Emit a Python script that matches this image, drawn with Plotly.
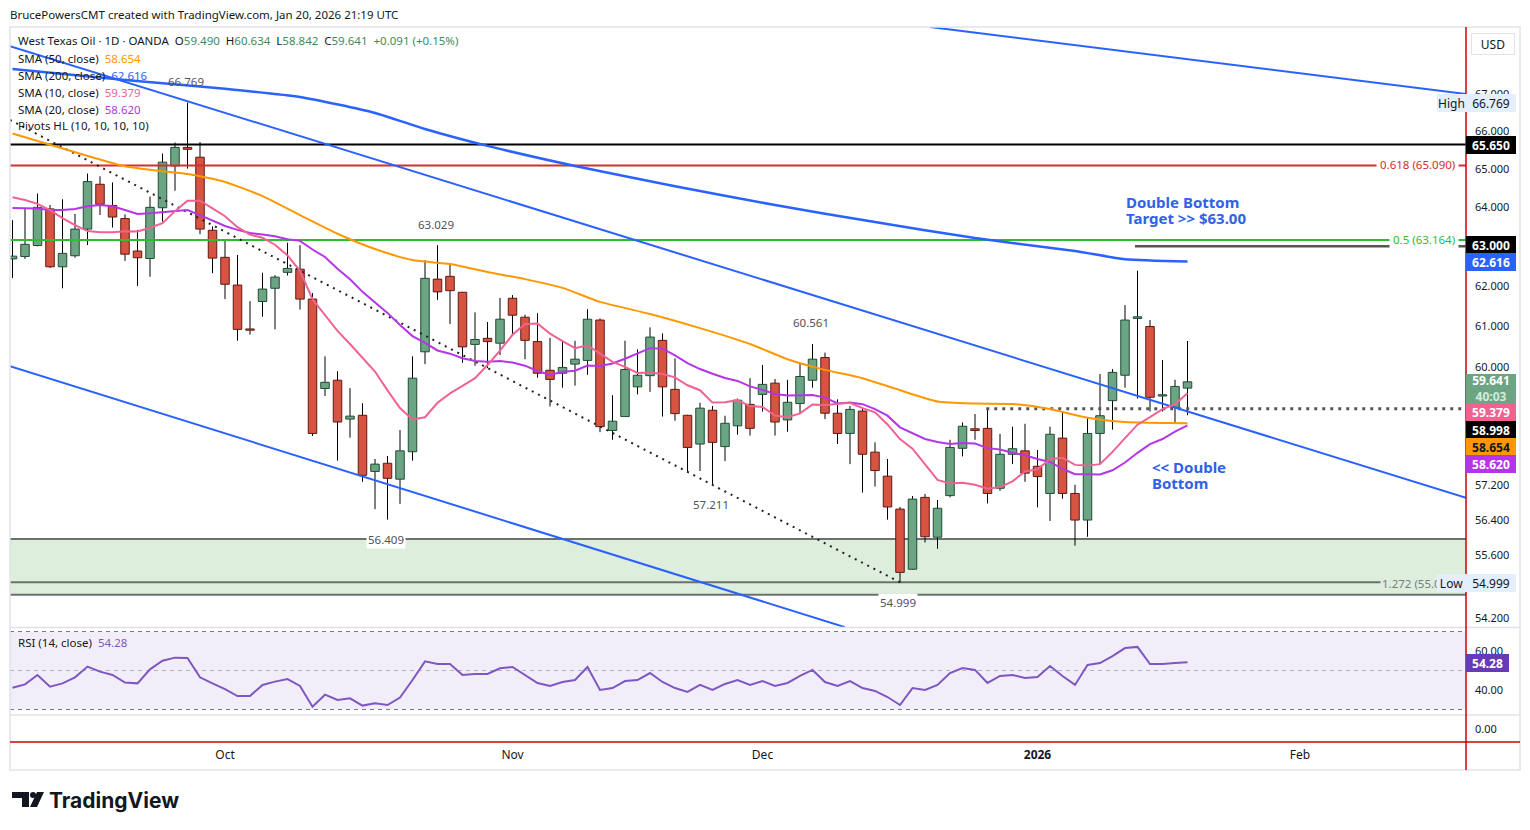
import math
import pandas as pd
import plotly.graph_objects as go

# ---------------- data ----------------
HOLIDAYS = ["2025-12-25", "2026-01-01"]
dates = [d for d in pd.bdate_range("2025-09-08", "2026-01-20") if d.strftime("%Y-%m-%d") not in HOLIDAYS]

opens = [62.68, 62.74, 63.02, 63.96, 62.48, 62.76, 63.44, 64.60, 64.05, 63.71,
         62.88, 62.69, 63.99, 65.08, 65.57, 65.31, 63.41, 62.72, 62.02, 60.93,
         61.61, 61.94, 62.34, 62.42, 61.67, 59.48, 59.68, 58.75, 58.84, 57.52,
         57.71, 57.34, 57.98, 60.37, 62.17, 62.24, 61.84, 60.55, 60.70, 60.58,
         61.69, 61.22, 60.62, 59.92, 59.85, 60.07, 60.16, 61.15, 58.48, 58.81,
         59.52, 59.79, 60.65, 59.46, 58.84, 58.16, 58.96, 58.10, 58.59, 59.10,
         59.34, 59.61, 58.73, 59.12, 59.68, 60.23, 58.89, 58.41, 58.94, 57.97,
         57.41, 56.65, 55.29, 56.92, 56.01, 56.96, 58.06, 58.52, 58.53, 57.13,
         57.92, 58.00, 57.64, 57.01, 58.30, 57.01, 56.40, 58.41, 59.19, 59.80,
         61.19, 60.99, 59.30, 59.03, 59.490]
highs = [63.67, 63.98, 64.36, 64.06, 64.21, 63.83, 64.88, 64.81, 64.65, 63.82,
         63.42, 64.28, 65.41, 65.70, 66.769, 65.71, 63.51, 63.14, 62.78, 61.62,
         62.33, 62.27, 63.09, 63.03, 61.82, 60.26, 59.90, 59.49, 59.13, 57.81,
         57.88, 58.49, 60.26, 62.65, 63.029, 62.57, 61.85, 61.34, 61.10, 61.70,
         61.77, 61.28, 61.32, 60.71, 60.66, 60.64, 61.42, 61.19, 59.32, 60.64,
         60.43, 60.97, 60.82, 60.21, 58.85, 59.14, 59.06, 58.83, 59.24, 59.73,
         60.05, 59.71, 59.69, 60.09, 60.561, 60.35, 59.22, 59.06, 58.99, 58.20,
         57.81, 56.70, 56.95, 57.00, 56.86, 58.26, 58.67, 58.87, 58.998, 58.40,
         58.57, 58.64, 58.02, 58.57, 58.93, 57.21, 58.77, 59.83, 59.95, 61.52,
         62.38, 61.15, 60.17, 59.69, 60.634]
lows = [62.20, 62.68, 63.00, 62.45, 61.94, 62.71, 63.03, 63.80, 63.48, 62.63,
        62.00, 62.23, 63.63, 64.43, 65.01, 63.31, 62.32, 61.67, 60.64, 60.79,
        61.23, 60.92, 62.26, 61.41, 58.35, 59.30, 57.77, 58.31, 57.28, 56.65,
        56.409, 56.77, 57.77, 60.07, 61.65, 61.05, 60.10, 60.03, 59.97, 60.29,
        60.78, 60.19, 59.74, 59.05, 59.50, 59.55, 59.81, 58.44, 58.26, 58.80,
        59.34, 59.40, 58.81, 58.71, 57.50, 57.53, 57.211, 57.76, 58.38, 58.36,
        58.93, 58.36, 58.45, 58.89, 59.50, 58.75, 58.16, 57.69, 57.03, 57.17,
        56.41, 54.999, 55.28, 55.89, 55.75, 56.92, 57.87, 58.26, 56.78, 57.07,
        57.69, 57.28, 56.69, 56.38, 56.89, 55.82, 56.02, 57.69, 58.50, 59.50,
        59.24, 58.93, 58.93, 58.66, 58.842]
closes = [62.75, 63.05, 64.00, 62.48, 62.82, 63.44, 64.67, 64.08, 63.75, 62.80,
          62.71, 64.00, 65.18, 65.57, 65.52, 63.44, 62.70, 62.04, 60.92, 60.90,
          61.92, 62.22, 62.44, 61.67, 58.41, 59.63, 58.68, 58.82, 57.43, 57.69,
          57.36, 58.00, 59.73, 62.19, 61.85, 61.88, 60.49, 60.67, 60.62, 61.17,
          61.27, 60.65, 59.85, 59.70, 59.99, 60.19, 61.17, 58.57, 58.70, 59.94,
          59.80, 60.73, 59.52, 58.88, 58.08, 59.01, 58.20, 58.65, 59.20, 58.53,
          59.58, 58.68, 59.15, 59.77, 60.19, 58.89, 58.41, 58.98, 57.92, 57.54,
          56.70, 55.22, 56.88, 56.02, 56.67, 58.08, 58.58, 58.48, 57.01, 57.92,
          58.05, 57.48, 57.40, 58.39, 57.01, 56.40, 58.41, 58.83, 59.87, 61.15,
          61.23, 59.27, 59.33, 59.53, 59.641]

# moving averages (bar index, value)
sma50_idx = [0, 3, 9, 12, 14, 17, 20, 23, 26, 29, 32, 35, 38, 41, 44, 47, 51, 55, 59, 62, 65, 68, 71, 74, 77, 80, 83, 86, 89, 94]
sma50_val = [65.94, 65.64, 65.07, 64.94, 64.87, 64.66, 64.29, 63.80, 63.32, 62.93, 62.65, 62.55, 62.35, 62.17, 61.95,
             61.60, 61.30, 60.95, 60.56, 60.19, 59.93, 59.73, 59.44, 59.17, 59.12, 59.11, 58.99, 58.78, 58.68, 58.654]
sma200_idx = [0, 9, 17, 23, 29, 33, 38, 45, 53, 61, 69, 77, 85, 89, 94]
sma200_val = [67.68, 67.38, 67.14, 66.92, 66.49, 66.06, 65.61, 65.08, 64.55, 64.06, 63.62, 63.21, 62.88, 62.67, 62.616]
# first values of the short averages (before enough bars are visible)
sma10_lead = [64.26, 64.19, 64.09, 63.93, 63.72, 63.54, 63.39, 63.36, 63.36]
sma20_lead = [63.98, 63.98, 63.97, 63.93, 63.93, 63.96, 64.03, 64.06, 64.03, 63.93,
              63.83, 63.85, 63.88, 63.90, 63.93, 63.80, 63.65, 63.52, 63.42]

rsi = [41.2, 42.9, 47.7, 41.7, 43.4, 46.5, 52.0, 49.4, 47.7, 43.8,
       43.4, 50.6, 55.0, 56.6, 56.4, 46.5, 43.4, 40.5, 36.9, 36.9,
       42.6, 44.3, 45.6, 42.1, 31.4, 37.6, 34.9, 35.7, 32.0, 33.2,
       32.3, 36.1, 45.1, 54.7, 53.3, 53.3, 47.7, 48.2, 48.2, 51.1,
       51.8, 47.7, 43.6, 42.1, 44.1, 45.1, 51.8, 40.0, 41.0, 44.6,
       45.1, 48.7, 44.1, 41.0, 39.0, 42.6, 40.0, 43.1, 45.1, 42.6,
       44.6, 42.1, 43.6, 47.2, 50.3, 44.1, 42.1, 44.6, 41.0, 39.5,
       36.4, 32.3, 41.0, 40.0, 42.6, 48.7, 51.3, 50.3, 43.6, 47.2,
       47.7, 46.2, 46.7, 52.3, 47.2, 42.6, 52.8, 53.8, 57.4, 61.5,
       62.1, 53.3, 53.3, 53.8, 54.28]

# horizontal levels
lvl_resistance = 65.65
lvl_fib618 = 65.09
lvl_fib05 = 63.164
lvl_target = 63.00
lvl_neck = 58.998
lvl_fib1272 = 55.0
zone_top = 55.97
zone_bottom = 54.72

# trend lines: (bar index, price)
chan_upper = [(-0.2, 68.31), (116.28, 56.91)]
chan_lower = [(-0.2, 60.02), (66.6, 54.01)]
chan_top = [(73.4, 68.84), (116.28, 67.00)]
pivot_line = [(-0.2, 66.30), (71.0, 54.999)]

tick_dates = ["2025-10-01", "2025-11-03", "2025-12-01", "2026-01-02", "2026-02-02"]
tick_text = ["Oct", "Nov", "Dec", "<b>2026</b>", "Feb"]
price_ticks = [67, 66, 65, 64, 62, 61, 60, 57.2, 56.4, 55.6, 54.2]

pivot_highs = [(14, 66.769), (34, 63.029), (64, 60.561)]
pivot_lows = [(30, 56.409), (56, 57.211), (71, 54.999)]

# ---------------- layout helpers ----------------
W, H = 1530, 830
L, R, T, B = 10, 1466, 27, 742
FONT = "Noto Sans"
TXT = "#131722"
BLUE = "#2962ff"
FS = 11.5


def px(x):
    return (x - L) / (R - L)


def py(y):
    return (B - y) / (B - T)


PX_PER_LN = 2473.7


def price_at(ypix):
    return 60.0 * math.exp((367 - ypix) / PX_PER_LN)


def rsi_at(ypix):
    return 60 - (ypix - 651) * 20 / 39


XMIN = (L - 12.5) / 12.5
XMAX = (R - 12.5) / 12.5
n = len(closes)
idx = list(range(n))

cal = [d for d in pd.bdate_range("2025-09-08", "2026-02-27") if d.strftime("%Y-%m-%d") not in HOLIDAYS]
tick_pos = [cal.index(pd.Timestamp(d)) for d in tick_dates]


def sma(vals, length, lead):
    out = list(lead)
    for k in range(len(lead), len(vals)):
        out.append(sum(vals[k - length + 1:k + 1]) / length)
    return out


sma10 = sma(closes, 10, sma10_lead)
sma20 = sma(closes, 20, sma20_lead)

fig = go.Figure()


def hline(v, color, width=2, dash="solid", x0=XMIN, x1=XMAX, fill=None, fillcolor=None, yaxis="y"):
    fig.add_trace(go.Scatter(x=[x0, x1], y=[v, v], mode="lines", yaxis=yaxis,
                             line=dict(color=color, width=width, dash=dash),
                             fill=fill, fillcolor=fillcolor, hoverinfo="skip", showlegend=False))


# support zone
hline(zone_bottom, "#6d706d", 2)
hline(zone_top, "#6d706d", 2, fill="tonexty", fillcolor="#ddeedd")
hline(lvl_fib1272, "#6d706d", 2)

# candles: wicks then bodies
HW = 0.34
wx, wy = [], []
for k in idx:
    wx += [k, k, None]
    wy += [lows[k], highs[k], None]
fig.add_trace(go.Scatter(x=wx, y=wy, mode="lines", line=dict(color="#000000", width=1),
                         hoverinfo="skip", showlegend=False))


def bodies(sel):
    xs, ys = [], []
    for k in sel:
        lo, hi = min(opens[k], closes[k]), max(opens[k], closes[k])
        xs += [k - HW, k + HW, k + HW, k - HW, k - HW, None]
        ys += [lo, lo, hi, hi, lo, None]
    return xs, ys


up = [k for k in idx if closes[k] >= opens[k]]
dn = [k for k in idx if closes[k] < opens[k]]
ux, uy = bodies(up)
dx, dy = bodies(dn)
fig.add_trace(go.Scatter(x=ux, y=uy, mode="lines", fill="toself", fillcolor="#6ba583",
                         line=dict(color="#1f4d33", width=1), hoverinfo="skip", showlegend=False))
fig.add_trace(go.Scatter(x=dx, y=dy, mode="lines", fill="toself", fillcolor="#d75442",
                         line=dict(color="#5e1a12", width=1), hoverinfo="skip", showlegend=False))

# horizontal levels
hline(lvl_resistance, "#000000", 2)
hline(lvl_fib618, "#d32f2f", 2)
hline(lvl_fib05, "#2ebd2e", 2)
hline(lvl_target, "#555555", 2.5, x0=89.8)
hline(lvl_neck, "#555555", 3, dash="3px,5px", x0=77.9)

# trend lines
for seg in (chan_upper, chan_lower, chan_top):
    fig.add_trace(go.Scatter(x=[p[0] for p in seg], y=[p[1] for p in seg], mode="lines",
                             line=dict(color=BLUE, width=2), hoverinfo="skip", showlegend=False))
fig.add_trace(go.Scatter(x=[p[0] for p in pivot_line], y=[p[1] for p in pivot_line], mode="lines",
                         line=dict(color="#222222", width=2, dash="2px,5px"), hoverinfo="skip", showlegend=False))

# moving averages
fig.add_trace(go.Scatter(x=sma200_idx, y=sma200_val, mode="lines", line=dict(color=BLUE, width=2.5, shape="spline", smoothing=0.6),
                         hoverinfo="skip", showlegend=False))
fig.add_trace(go.Scatter(x=sma50_idx, y=sma50_val, mode="lines", line=dict(color="#ff9800", width=2, shape="spline", smoothing=0.6),
                         hoverinfo="skip", showlegend=False))
fig.add_trace(go.Scatter(x=idx, y=sma20, mode="lines", line=dict(color="#b436e6", width=2),
                         hoverinfo="skip", showlegend=False))
fig.add_trace(go.Scatter(x=idx, y=sma10, mode="lines", line=dict(color="#f06292", width=2),
                         hoverinfo="skip", showlegend=False))

# RSI pane
hline(30, "#787b86", 1, dash="4px,4px", yaxis="y2")
hline(70, "#787b86", 1, dash="4px,4px", fill="tonexty", fillcolor="rgba(126,87,194,0.1)", yaxis="y2")
hline(50, "#b2b5be", 1, dash="4px,4px", yaxis="y2")
fig.add_trace(go.Scatter(x=idx, y=rsi, yaxis="y2", mode="lines", line=dict(color="#7e57c2", width=2),
                         hoverinfo="skip", showlegend=False))
# empty third pane (keeps its axis alive so the time axis sits at the bottom)
fig.add_trace(go.Scatter(x=[XMIN], y=[0], yaxis="y3", mode="markers", marker=dict(opacity=0),
                         hoverinfo="skip", showlegend=False))

# ---------------- annotations ----------------
ann = []


def text(x, y, s, size=FS, color=TXT, anchor="left", bg=None, bold=False, family=FONT, pad=1):
    ann.append(dict(xref="paper", yref="paper", x=px(x), y=py(y), xanchor=anchor, yanchor="middle",
                    text=("<b>%s</b>" % s) if bold else s, showarrow=False, bgcolor=bg, borderpad=pad,
                    font=dict(family=family, size=size, color=color)))


text(8, 14, "BrucePowersCMT created with TradingView.com, Jan 20, 2026 21:19 UTC")

G = "#3f8a5e"
hdr = ("West Texas Oil · 1D · OANDA\u00a0\u00a0"
       f"O<span style='color:{G}'>{opens[-1]:.3f}</span>\u00a0\u00a0"
       f"H<span style='color:{G}'>{highs[-1]:.3f}</span>\u00a0\u00a0"
       f"L<span style='color:{G}'>{lows[-1]:.3f}</span>\u00a0\u00a0"
       f"C<span style='color:{G}'>{closes[-1]:.3f}</span>\u00a0\u00a0"
       f"<span style='color:{G}'>+0.091 (+0.15%)</span>")
text(16, 41, hdr)
text(16, 58, "SMA (50, close)\u00a0\u00a0<span style='color:#ff9800'>58.654</span>")
text(16, 75, "SMA (200, close)\u00a0\u00a0<span style='color:#2962ff'>62.616</span>")
text(16, 92, "SMA (10, close)\u00a0\u00a0<span style='color:#f06292'>59.379</span>")
text(16, 109, "SMA (20, close)\u00a0\u00a0<span style='color:#b436e6'>58.620</span>")
text(16, 126, "Pivots HL (10, 10, 10, 10)")
text(16, 642, "RSI (14, close)\u00a0\u00a0<span style='color:#7e57c2'>54.28</span>")

# pivot labels
for k, v in pivot_highs:
    ann.append(dict(xref="x", yref="y", x=k - 0.15, y=math.log10(v), yshift=21, text=f"{v:.3f}", showarrow=False,
                    font=dict(family=FONT, size=FS, color="#50535e")))
for k, v in pivot_lows:
    ann.append(dict(xref="x", yref="y", x=k - 0.15, y=math.log10(v), yshift=-20, text=f"{v:.3f}", showarrow=False,
                    bgcolor="white", borderpad=1, font=dict(family=FONT, size=FS, color="#50535e")))

# fib labels
text(1459, 165, "0.618 (65.090)", color="#d32f2f", anchor="right", bg="white", pad=3)
text(1459, 240, "0.5 (63.164)", color="#2ebd2e", anchor="right", bg="white", pad=3)
text(1459, 583, "1.272 (55.000)", color="#787b86", anchor="right", bg="#ddeedd", pad=1)

# chart notes
NOTE = "#2f62e8"
text(1125, 202, "Double Bottom", size=15, color=NOTE, bold=True, pad=0)
text(1125, 218, "Target &gt;&gt; $63.00", size=15, color=NOTE, bold=True, pad=0)
text(1151, 467, "&lt;&lt; Double", size=15, color=NOTE, bold=True, pad=0)
text(1151, 483, "Bottom", size=15, color=NOTE, bold=True, pad=0)


def badge(y, s, bg, fg="white", x0=1466, w=48, h=16, bold=True):
    ann.append(dict(xref="paper", yref="paper", x=px(x0), y=py(y), xanchor="left", yanchor="middle",
                    text=("<b>%s</b>" % s) if bold else s, showarrow=False, bgcolor=bg, bordercolor=bg,
                    borderwidth=1, borderpad=0, width=w, height=h, align="center",
                    font=dict(family=FONT, size=12, color=fg)))


badge(103, "High", "#e3effd", fg=TXT, x0=1437, w=27, bold=False)
badge(103, "66.769", "#e3effd", fg=TXT, bold=False)
badge(144.5, "65.650", "#000000")
badge(245, "63.000", "#000000")
badge(262, "62.616", BLUE)
badge(388.5, "59.641<br><span style='color:#d5eadd'>40:03</span>", "#6ba583", h=27)
badge(412, "59.379", "#f06292")
badge(430, "58.998", "#000000")
badge(447, "58.654", "#ff9800", fg=TXT)
badge(464, "58.620", "#b436e6")
badge(583, "Low", "#e3effd", fg=TXT, x0=1437, w=27, bold=False)
badge(583, "54.999", "#e3effd", fg=TXT, bold=False)
badge(663, "54.28", "#673ab7", w=41)

ann.append(dict(xref="paper", yref="paper", x=px(1493), y=py(44), xanchor="center", yanchor="middle",
                text="USD", showarrow=False, bgcolor="white", bordercolor="#e0e3eb", borderwidth=1,
                width=40, height=18, font=dict(family=FONT, size=12, color=TXT)))

# logo text
ann.append(dict(xref="paper", yref="paper", x=px(47), y=py(800), xanchor="left", yanchor="middle",
                text="<b>TradingView</b>", showarrow=False, font=dict(family="Inter", size=21, color=TXT)))

# ---------------- shapes ----------------
shapes = [
    dict(type="rect", xref="paper", yref="paper", x0=px(10), x1=px(1520), y0=py(27), y1=py(770),
         line=dict(color="#e0e3eb", width=1.5), layer="above"),
    dict(type="line", xref="paper", yref="paper", x0=px(10), x1=px(1520), y0=py(627.5), y1=py(627.5),
         line=dict(color="#e0e3eb", width=1.5), layer="above"),
    dict(type="line", xref="paper", yref="paper", x0=px(10), x1=px(1520), y0=py(715), y1=py(715),
         line=dict(color="#e0e3eb", width=1.5), layer="above"),
    dict(type="line", xref="paper", yref="paper", x0=px(10), x1=px(1520), y0=py(742), y1=py(742),
         line=dict(color="#cc0000", width=1.5), layer="above"),
    dict(type="line", xref="paper", yref="paper", x0=px(1466), x1=px(1466), y0=py(27), y1=py(770),
         line=dict(color="#cc0000", width=1.5), layer="above"),
    # logo mark
    dict(type="path", xref="paper", yref="paper",
         path=f"M {px(12)} {py(792)} L {px(29)} {py(792)} L {px(29)} {py(807)} L {px(22)} {py(807)} "
              f"L {px(22)} {py(798)} L {px(12)} {py(798)} Z",
         fillcolor=TXT, line=dict(width=0)),
    dict(type="circle", xref="paper", yref="paper", x0=px(30), x1=px(36), y0=py(798), y1=py(792),
         fillcolor=TXT, line=dict(width=0)),
    dict(type="path", xref="paper", yref="paper",
         path=f"M {px(37)} {py(792)} L {px(44)} {py(792)} L {px(37)} {py(807)} L {px(30)} {py(807)} Z",
         fillcolor=TXT, line=dict(width=0)),
]

dom_main = [(B - 627) / (B - T), 1]
dom_rsi = [(B - 715) / (B - T), (B - 628) / (B - T)]
dom_3 = [0, (B - 716) / (B - T)]

fig.update_layout(
    width=W, height=H, autosize=False,
    margin=dict(l=L, r=W - R, t=T, b=H - B),
    paper_bgcolor="white", plot_bgcolor="white", showlegend=False,
    font=dict(family=FONT, size=12, color=TXT),
    xaxis=dict(range=[XMIN, XMAX], tickvals=tick_pos, ticktext=tick_text, showgrid=False, zeroline=False,
               ticks="", anchor="y3", tickfont=dict(size=12, color=TXT), ticklabelstandoff=4, showline=False),
    yaxis=dict(type="log", domain=dom_main, range=[math.log10(price_at(627)), math.log10(price_at(27))],
               side="right", tickvals=price_ticks, ticktext=[f"{v:.3f}" for v in price_ticks], showgrid=False,
               zeroline=False, ticks="", tickfont=dict(size=11, color=TXT), ticklabelstandoff=8, anchor="x"),
    yaxis2=dict(domain=dom_rsi, range=[rsi_at(715), rsi_at(628)], side="right", tickvals=[60, 40],
                ticktext=["60.00", "40.00"], showgrid=False, zeroline=False, ticks="",
                tickfont=dict(size=11, color=TXT), ticklabelstandoff=8, anchor="x"),
    yaxis3=dict(domain=dom_3, range=[-1, 1], side="right", tickvals=[0], ticktext=["0.00"], showgrid=False,
                zeroline=False, ticks="", tickfont=dict(size=11, color=TXT), ticklabelstandoff=8, anchor="x"),
    annotations=ann, shapes=shapes,
)

fig.write_html("out.html")
